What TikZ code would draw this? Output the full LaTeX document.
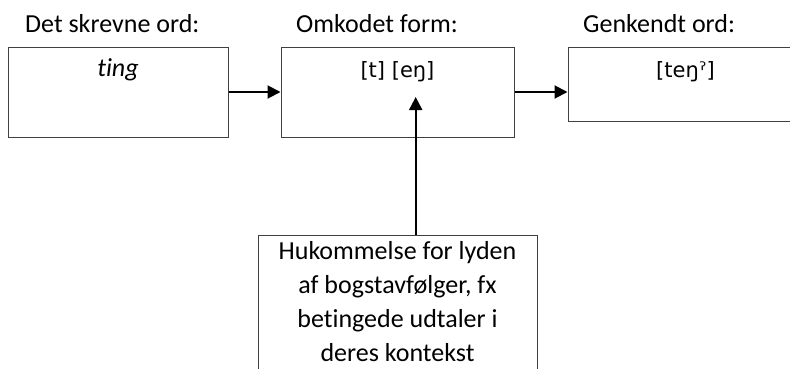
\documentclass[tikz,border=0pt]{standalone}
\usepackage{fontspec}
\setmainfont{Carlito}[Ligatures=CommonOff]
\newfontfamily\ipafont{DejaVu Sans}
\usetikzlibrary{arrows.meta}
\tikzset{
  box/.style={draw=black!75, line width=1pt, fill=white, inner sep=0pt},
  head/.style={anchor=base west, inner sep=0pt, font=\fontsize{26}{31}\selectfont},
  inner/.style={anchor=base, inner sep=0pt},
  arr/.style={line width=2pt, -{Triangle[length=13pt,width=13pt]}},
}
\begin{document}
\begin{tikzpicture}[x=1pt,y=-1pt]
\useasboundingbox (0,0) rectangle (790,368);
\clip (0,0) rectangle (790,368);
\fill[white] (0,0) rectangle (790,368);
% boxes
\node[box, minimum width=220pt, minimum height=90pt] (b1) at (118,92) {};
\node[box, minimum width=233pt, minimum height=90pt] (b2) at (397.5,92) {};
\node[box, minimum width=235pt, minimum height=74pt] (b3) at (685.5,84) {};
\node[box, minimum width=279pt, minimum height=140pt] (mem) at (397.5,305) {};
% headers
\node[head] (h1) at (25,32) {Det skrevne ord:};
\node[head] (h2) at (296,32) {Omkodet form:};
\node[head] (h3) at (583,32) {Genkendt ord:};
% inner texts
\node[inner, font=\fontsize{26}{31}\selectfont\itshape] (t1) at (118,76) {ting};
\node[inner, font=\ipafont\fontsize{21}{25}\selectfont] (t2) at (397.5,77) {[t] [eŋ]};
\node[inner, font=\ipafont\fontsize{21}{25}\selectfont] (t3) at (685.5,77) {[teŋˀ]};
\node[inner, font=\fontsize{26}{34}\selectfont] (memt) at (397.5,259)
  {\setlength{\tabcolsep}{0pt}\begin{tabular}[t]{c}Hukommelse for lyden\\af bogstavfølger, fx\\betingede udtaler i\\deres kontekst\end{tabular}};
% connectors
\coordinate (vt) at (415.7,97);
\draw[arr] (b1.east) -- (b2.west);
\draw[arr] (b2.east) -- (b2.east -| b3.west);
\draw[arr] (mem.north -| vt) -- (vt);
\end{tikzpicture}
\end{document}
